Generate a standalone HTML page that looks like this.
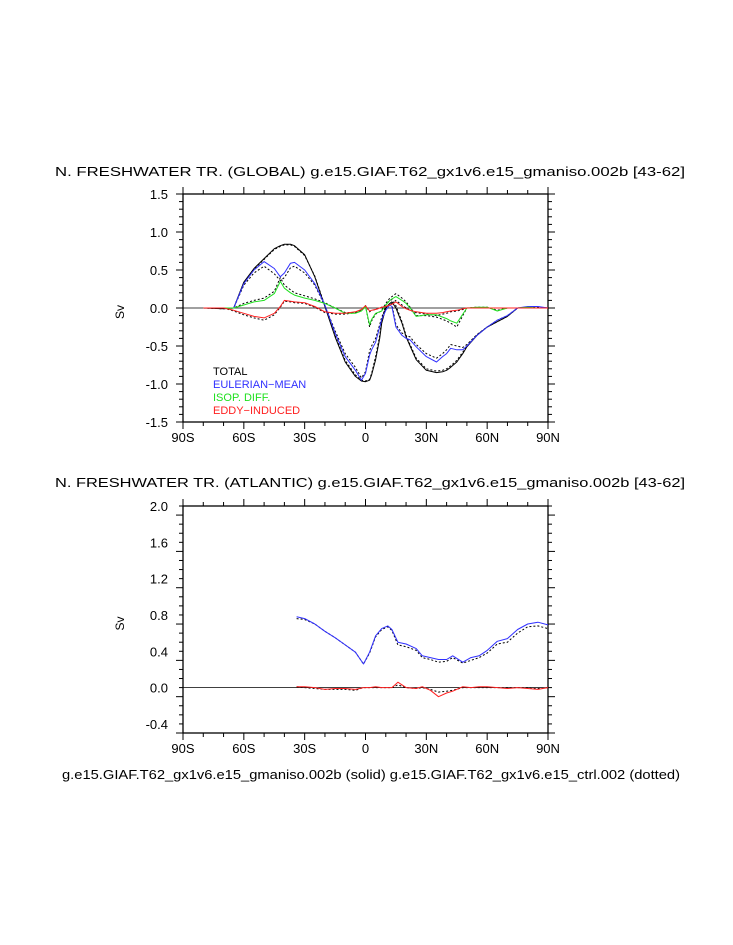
<!DOCTYPE html>
<html><head><meta charset="utf-8"><style>
html,body{margin:0;padding:0;background:#fff;}
svg{display:block;font-family:"Liberation Sans",sans-serif;}
</style></head><body>
<svg id="s" width="733" height="945" viewBox="0 0 733 945">
<text x="55" y="176" font-size="13" textLength="630" lengthAdjust="spacingAndGlyphs">N. FRESHWATER TR. (GLOBAL) g.e15.GIAF.T62_gx1v6.e15_gmaniso.002b [43-62]</text>
<text x="55" y="487" font-size="13" textLength="630" lengthAdjust="spacingAndGlyphs">N. FRESHWATER TR. (ATLANTIC) g.e15.GIAF.T62_gx1v6.e15_gmaniso.002b [43-62]</text>
<text x="62" y="779" font-size="13" textLength="618" lengthAdjust="spacingAndGlyphs">g.e15.GIAF.T62_gx1v6.e15_gmaniso.002b (solid) g.e15.GIAF.T62_gx1v6.e15_ctrl.002 (dotted)</text>
<g id="legend" font-size="11">
<text x="213" y="375" fill="#000">TOTAL</text>
<text x="213" y="388" fill="#3030ff">EULERIAN−MEAN</text>
<text x="213" y="401" fill="#20e020">ISOP. DIFF.</text>
<text x="213" y="414" fill="#ff2020">EDDY−INDUCED</text>
</g>
</svg>
<script>
// ---- Global chart data ----
const gLat = [-80,-70,-65,-60,-55,-50,-45,-42,-40,-37,-35,-30,-25,-20,-15,-10,-5,-2,0,2,3,5,7,8,10,12,13,15,18,20,22,25,30,35,38,40,42,45,48,50,55,60,65,70,75,80,85,90];
const gTotal = [0,-0.01,0,0.34,0.52,0.65,0.78,0.82,0.84,0.84,0.82,0.7,0.41,0.02,-0.38,-0.71,-0.9,-0.96,-0.97,-0.95,-0.88,-0.68,-0.4,-0.2,0,0.06,0.08,0,-0.2,-0.38,-0.5,-0.68,-0.82,-0.85,-0.84,-0.82,-0.78,-0.71,-0.6,-0.51,-0.36,-0.25,-0.18,-0.11,0,0,0,0];
const gTotalC = [0,-0.01,0,0.33,0.51,0.64,0.77,0.81,0.83,0.83,0.81,0.69,0.42,0.03,-0.36,-0.69,-0.88,-0.95,-0.96,-0.94,-0.86,-0.64,-0.36,-0.16,0.04,0.1,0.11,0.03,-0.18,-0.36,-0.48,-0.66,-0.8,-0.83,-0.82,-0.8,-0.76,-0.69,-0.58,-0.5,-0.35,-0.25,-0.18,-0.11,0,0,0,0];
const gEM = [0,0,0,0.32,0.5,0.61,0.52,0.41,0.46,0.59,0.6,0.5,0.32,0.04,-0.33,-0.64,-0.82,-0.95,-0.86,-0.62,-0.55,-0.45,-0.25,-0.15,-0.03,0.04,0.02,-0.25,-0.36,-0.4,-0.42,-0.51,-0.64,-0.71,-0.64,-0.6,-0.53,-0.55,-0.55,-0.5,-0.36,-0.25,-0.16,-0.1,0,0.02,0.02,0];
const gEMC = [0,0,0,0.3,0.46,0.55,0.45,0.36,0.4,0.53,0.55,0.46,0.3,0.03,-0.3,-0.6,-0.78,-0.92,-0.84,-0.56,-0.5,-0.4,-0.22,-0.12,0,0.06,0.05,-0.22,-0.33,-0.36,-0.38,-0.48,-0.6,-0.66,-0.6,-0.55,-0.48,-0.5,-0.52,-0.48,-0.35,-0.25,-0.16,-0.1,0,0.01,0.01,0];
const gIso = [0,0,0,0.04,0.08,0.1,0.19,0.35,0.26,0.2,0.17,0.13,0.1,0.06,0,-0.07,-0.07,-0.04,0.02,-0.22,-0.15,-0.07,-0.05,-0.04,0.04,0.1,0.12,0.15,0.1,0.06,0,-0.11,-0.09,-0.09,-0.12,-0.14,-0.17,-0.2,-0.08,0,0.01,0.01,-0.04,0,0,0.01,0,0];
const gIsoC = [0,0,0,0.06,0.1,0.13,0.22,0.4,0.3,0.24,0.2,0.16,0.12,0.07,0,-0.06,-0.06,-0.03,0.03,-0.25,-0.17,-0.08,-0.05,-0.03,0.06,0.13,0.15,0.19,0.13,0.08,0.01,-0.1,-0.1,-0.12,-0.15,-0.17,-0.2,-0.25,-0.1,0,0.01,0.01,-0.03,0,0,0,0,0];
const gEddy = [0,0,-0.03,-0.07,-0.11,-0.13,-0.07,0.02,0.1,0.09,0.08,0.07,0.02,-0.05,-0.07,-0.07,-0.05,-0.02,0.03,-0.04,-0.03,-0.02,0,0.01,0.02,0.04,0.05,0.08,0.02,-0.01,-0.03,-0.05,-0.07,-0.07,-0.06,-0.05,-0.04,-0.03,-0.01,0,0,0,0,0,0,0,0,0];
const gEddyC = [0,0,-0.04,-0.09,-0.13,-0.16,-0.09,0.01,0.09,0.08,0.07,0.06,0.01,-0.06,-0.08,-0.08,-0.06,-0.03,0.03,-0.05,-0.03,-0.02,0,0.01,0.02,0.05,0.06,0.1,0.04,0,-0.03,-0.06,-0.08,-0.1,-0.08,-0.07,-0.05,-0.04,-0.02,0,0,0,0,0,0,0,0,0];
// ---- Atlantic chart data ----
const aLat = [-34,-30,-25,-20,-15,-10,-5,-1,2,5,8,11,13,16,20,25,28,32,36,40,43,48,52,56,60,65,70,75,80,85,90];
const aEM = [0.78,0.76,0.7,0.62,0.55,0.47,0.39,0.26,0.39,0.57,0.65,0.68,0.64,0.5,0.48,0.43,0.35,0.33,0.31,0.31,0.35,0.28,0.33,0.35,0.41,0.51,0.54,0.64,0.7,0.72,0.69];
const aTot = [0.76,0.75,0.7,0.62,0.55,0.47,0.39,0.26,0.38,0.56,0.64,0.67,0.63,0.47,0.45,0.41,0.33,0.31,0.28,0.29,0.33,0.27,0.3,0.33,0.38,0.48,0.5,0.6,0.67,0.68,0.65];
const aEddy = [0.01,0.01,0,-0.02,-0.01,-0.01,-0.02,0,0,0.01,0,0,0,0.06,0,-0.01,0.01,-0.03,-0.1,-0.06,-0.04,0.01,0,0.01,0.01,0,-0.01,0,-0.01,-0.02,0];
const aEddyC = [0.01,0,-0.01,-0.02,-0.02,-0.02,-0.03,0,0,0,0,0,0,0.03,0,-0.01,0,-0.02,-0.05,-0.04,-0.03,0,0,0,0,0,0,0,0,-0.01,0];
const xTicks = ["90S","60S","30S","0","30N","60N","90N"];
const gYTicks = ["-1.5","-1.0","-0.5","0.0","0.5","1.0","1.5"];
const aYTicks = ["-0.4","0.0","0.4","0.8","1.2","1.6","2.0"];

const NS="http://www.w3.org/2000/svg";
const svg=document.getElementById('s');
function el(tag,attrs,parent){const e=document.createElementNS(NS,tag);for(const k in attrs)e.setAttribute(k,attrs[k]);(parent||svg).appendChild(e);return e;}
const X0=183,X1=548;
function xs(lat){return X0+(lat+90)*(X1-X0)/180;}

function axes(name,top,bot,ymin,ymax,majorStep,labels){
  const g=el('g',{});
  
  
  const ys=v=>bot-(v-ymin)*(bot-top)/(ymax-ymin);
  el('rect',{x:X0,y:top,width:X1-X0,height:bot-top,fill:'none',stroke:'#000','stroke-width':1.3},g);
  for(let lat=-90;lat<=90;lat+=10){
    const x=xs(lat),L=(lat%30===0)?7:4;
    el('line',{x1:x,x2:x,y1:bot,y2:bot+L,stroke:'#000'},g);
    el('line',{x1:x,x2:x,y1:top,y2:top-L,stroke:'#000'},g);
  }
  xTicks.forEach((t,i)=>{
    const tx=el('text',{x:xs(-90+30*i),y:bot+20,'text-anchor':'middle','font-size':13},g);
    tx.textContent=t;
    
    
  });
  const n=Math.round((ymax-ymin)/0.1);
  for(let i=0;i<=n;i++){
    const v=ymin+i*0.1,y=ys(v);
    const maj=Math.abs((v-ymin)/majorStep-Math.round((v-ymin)/majorStep))<1e-6;
    const L=maj?7:4;
    el('line',{x1:X0-L,x2:X0,y1:y,y2:y,stroke:'#000'},g);
    el('line',{x1:X1,x2:X1+L,y1:y,y2:y,stroke:'#000'},g);
  }
  labels.forEach(t=>{
    const tx=el('text',{x:168,y:ys(parseFloat(t))+5,'text-anchor':'end','font-size':13},g);
    tx.textContent=t;
    
    
  });
  el('line',{x1:X0,x2:X1,y1:ys(0),y2:ys(0),stroke:'#000','stroke-width':0.8},g);
  const yl=el('text',{x:0,y:0,'font-size':12,transform:`translate(124,${(top+bot)/2+4}) rotate(-90)`,'text-anchor':'middle'},g);
  yl.textContent='Sv';
  
  
  return ys;
}
function line(lats,vals,ys,color,dotted,name){
  const d=lats.map((l,i)=>(i?'L':'M')+xs(l).toFixed(1)+','+ys(vals[i]).toFixed(1)).join('');
  const p=el('path',{d:d,fill:'none',stroke:color,'stroke-width':1,'stroke-dasharray':dotted?'2,2':'none','stroke-linejoin':'round'});
  
  
}
const gy=axes('global',194,422,-1.5,1.5,0.5,gYTicks);
line(gLat,gTotalC,gy,'#000',true,'global-total-ctrl-line');
line(gLat,gEMC,gy,'#000',true,'global-eulerian-ctrl-line');
line(gLat,gIsoC,gy,'#000',true,'global-isop-ctrl-line');
line(gLat,gEddyC,gy,'#000',true,'global-eddy-ctrl-line');
line(gLat,gTotal,gy,'#000',false,'global-total-line');
line(gLat,gEM,gy,'#3030ff',false,'global-eulerian-line');
line(gLat,gIso,gy,'#20e020',false,'global-isop-line');
line(gLat,gEddy,gy,'#ff2020',false,'global-eddy-line');
const ay=axes('atlantic',506,733,-0.5,2.0,0.4,aYTicks);
line(aLat,aTot,ay,'#000',true,'atlantic-total-ctrl-line');
line(aLat,aEddyC,ay,'#000',true,'atlantic-eddy-ctrl-line');
line(aLat,aEM,ay,'#3030ff',false,'atlantic-eulerian-line');
line(aLat,aEddy,ay,'#ff2020',false,'atlantic-eddy-line');
</script>
</body></html>
